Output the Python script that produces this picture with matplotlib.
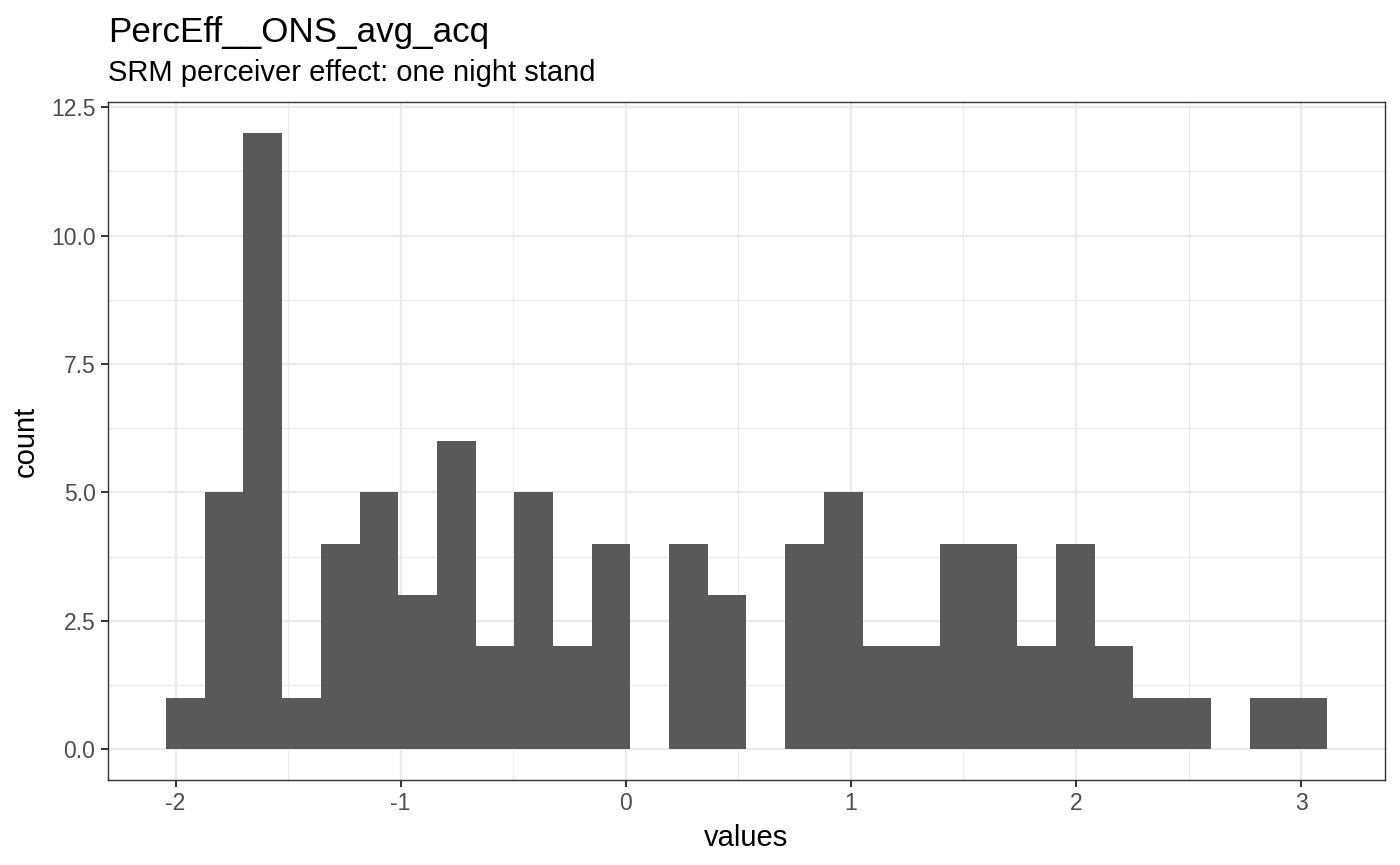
import matplotlib
matplotlib.use("Agg")
import matplotlib.pyplot as plt
import numpy as np

# Histogram data (30 bins)
bin_start = -2.042
bin_width = 0.1719
counts = [1, 5, 12, 1, 4, 5, 3, 6, 2, 5, 2, 4, 0, 4, 3, 0, 4, 5, 2, 2,
          4, 4, 2, 4, 2, 1, 1, 0, 1, 1]
x_ticks = [-2, -1, 0, 1, 2, 3]
x_tick_labels = ["-2", "-1", "0", "1", "2", "3"]
y_ticks = [0.0, 2.5, 5.0, 7.5, 10.0, 12.5]
y_tick_labels = ["0.0", "2.5", "5.0", "7.5", "10.0", "12.5"]
title = "PercEff__ONS_avg_acq"
subtitle = "SRM perceiver effect: one night stand"
x_label = "values"
y_label = "count"

plt.rcParams['font.family'] = ['Liberation Sans', 'DejaVu Sans']

fig = plt.figure(figsize=(14, 8.65), dpi=100)
ax = fig.add_axes([108/1400, 1-780/865, (1385-108)/1400, (780-102)/865])

n = len(counts)
lefts = bin_start + bin_width * np.arange(n)
ax.bar(lefts, counts, width=bin_width, align='edge', color='#595959',
       linewidth=0, zorder=3)

xmin = bin_start
xmax = bin_start + bin_width * n
xr = xmax - xmin
ax.set_xlim(xmin - 0.05 * xr, xmax + 0.05 * xr)
ymax = max(counts)
ax.set_ylim(-0.05 * ymax, ymax * 1.05)

ax.set_xticks(x_ticks)
ax.set_xticklabels(x_tick_labels)
ax.set_yticks(y_ticks)
ax.set_yticklabels(y_tick_labels)
ax.set_xticks([-1.5, -0.5, 0.5, 1.5, 2.5], minor=True)
ax.set_yticks([1.25, 3.75, 6.25, 8.75, 11.25], minor=True)

ax.grid(True, which='major', color='#EBEBEB', linewidth=1.6, zorder=0)
ax.grid(True, which='minor', color='#EBEBEB', linewidth=0.8, zorder=0)
ax.set_axisbelow(True)

for s in ax.spines.values():
    s.set_color('#333333')
    s.set_linewidth(1.0)

ax.tick_params(axis='both', which='major', length=5, width=1.4, color='#333333',
               labelcolor='#4D4D4D', labelsize=16.5, pad=4)
ax.tick_params(axis='both', which='minor', length=0)

ax.set_xlabel(x_label, fontsize=21, color='black', labelpad=6)
ax.set_ylabel(y_label, fontsize=21, color='black', labelpad=8)

fig.text(108/1400, 1-42/865, title, fontsize=25.2, color='black', ha='left', va='baseline')
fig.text(108/1400, 1-81/865, subtitle, fontsize=21, color='black', ha='left', va='baseline')

fig.savefig("out.png", dpi=100, facecolor='white')
